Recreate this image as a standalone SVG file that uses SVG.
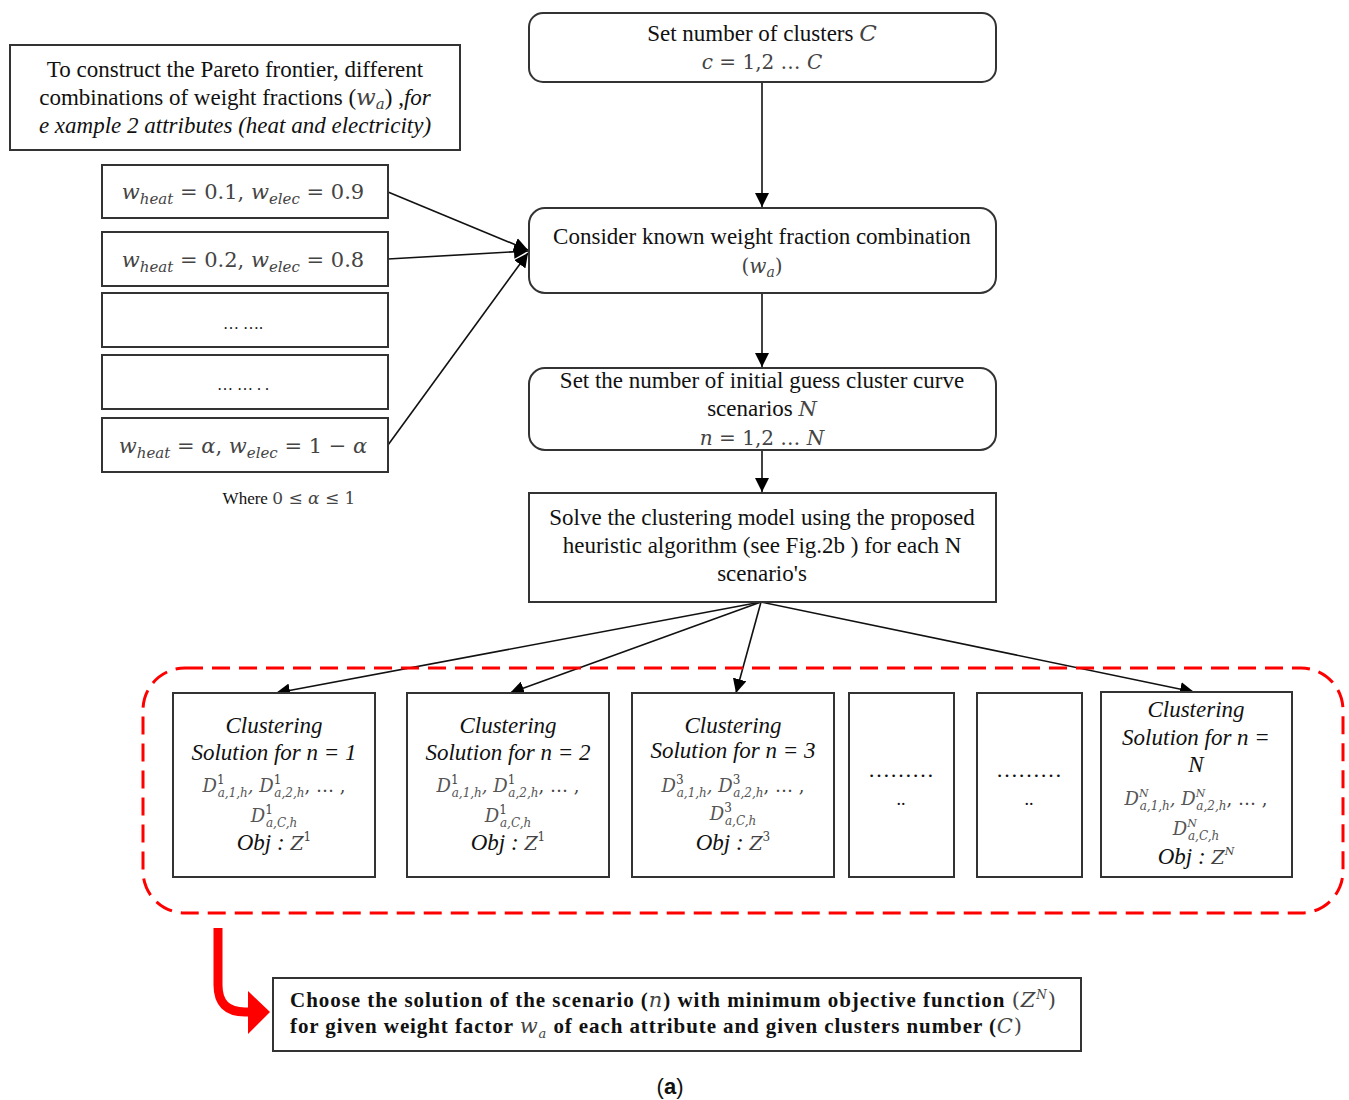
<svg xmlns="http://www.w3.org/2000/svg" width="1349" height="1100" viewBox="0 0 1349 1100">
<style>
.t{font-family:"Liberation Serif","Times New Roman",serif;font-size:23px;fill:#111;text-anchor:middle}
.it{font-style:italic}
.m{font-family:"DejaVu Serif","Liberation Serif",serif;font-style:italic;fill:#444}
.mu{font-family:"DejaVu Serif","Liberation Serif",serif;font-style:normal;fill:#444}
.d{font-family:"DejaVu Serif","Liberation Serif",serif;font-style:italic;fill:#555;font-size:18px;text-anchor:middle}
.box{fill:#fff;stroke:#333;stroke-width:2}
.line{fill:none;stroke:#111;stroke-width:1.6}
.b{font-weight:bold;text-anchor:start;font-size:21px}
.cap{font-family:"Liberation Sans",Arial,sans-serif;font-size:22px;fill:#111;text-anchor:middle}
</style>
<defs>
<marker id="ah2" viewBox="0 0 10 10" refX="10" refY="5" markerWidth="14" markerHeight="14" markerUnits="userSpaceOnUse" orient="auto">
<path d="M0,0 L10,5 L0,10 z" fill="#000"/>
</marker>
</defs>
<rect width="1349" height="1100" fill="#fff"/>

<g id="connectors">
<line class="line" x1="762" y1="82" x2="762" y2="207" marker-end="url(#ah2)"/>
<line class="line" x1="762" y1="293" x2="762" y2="367" marker-end="url(#ah2)"/>
<line class="line" x1="762" y1="450" x2="762" y2="492" marker-end="url(#ah2)"/>
<line class="line" x1="388" y1="192" x2="528" y2="250" marker-end="url(#ah2)"/>
<line class="line" x1="388" y1="259" x2="528" y2="251" marker-end="url(#ah2)"/>
<line class="line" x1="388" y1="445" x2="528" y2="253" marker-end="url(#ah2)"/>
<line class="line" x1="761" y1="602" x2="276" y2="693" marker-end="url(#ah2)"/>
<line class="line" x1="761" y1="602" x2="510" y2="693" marker-end="url(#ah2)"/>
<line class="line" x1="761" y1="602" x2="736" y2="693" marker-end="url(#ah2)"/>
<line class="line" x1="761" y1="602" x2="1194" y2="692" marker-end="url(#ah2)"/>
<path d="M218,928 L218,985 Q218,1012 245,1012 L252,1012" fill="none" stroke="#f00" stroke-width="9"/>
<path d="M248,991 L270,1012 L248,1034 z" fill="#f00"/>
</g>

<g id="pareto-note">
<rect class="box" x="10" y="45" width="450" height="105"/>
<text class="t" x="235" y="77">To construct the Pareto frontier, different</text>
<text class="t" x="235" y="105">combinations of weight fractions (<tspan class="m">w</tspan><tspan class="m" font-size="15" dy="4">a</tspan><tspan dy="-4">) ,</tspan><tspan class="it">for</tspan></text>
<text class="t it" x="235" y="133">e xample 2 attributes (heat and electricity)</text>
</g>

<g id="w1">
<rect class="box" x="102" y="165" width="286" height="53"/>
<text class="t" x="243" y="199" style="font-size:21px"><tspan class="m">w</tspan><tspan class="m" font-size="15" dy="5">heat</tspan><tspan class="mu" dy="-5"> =  0.1, </tspan><tspan class="m">w</tspan><tspan class="m" font-size="15" dy="5">elec</tspan><tspan class="mu" dy="-5"> =  0.9</tspan></text>
</g>
<g id="w2">
<rect class="box" x="102" y="232" width="286" height="54"/>
<text class="t" x="243" y="267" style="font-size:21px"><tspan class="m">w</tspan><tspan class="m" font-size="15" dy="5">heat</tspan><tspan class="mu" dy="-5"> = 0.2, </tspan><tspan class="m">w</tspan><tspan class="m" font-size="15" dy="5">elec</tspan><tspan class="mu" dy="-5"> = 0.8</tspan></text>
</g>
<g id="w3">
<rect class="box" x="102" y="293" width="286" height="54"/>
<text class="t" x="243" y="329" style="font-size:16px">… ….</text>
</g>
<g id="w4">
<rect class="box" x="102" y="355" width="286" height="54"/>
<text class="t" x="243" y="390" style="font-size:16px">… … . .</text>
</g>
<g id="w5">
<rect class="box" x="102" y="418" width="286" height="54"/>
<text class="t" x="243" y="453" style="font-size:21px"><tspan class="m">w</tspan><tspan class="m" font-size="15" dy="5">heat</tspan><tspan class="mu" dy="-5"> = </tspan><tspan class="m">α</tspan><tspan class="mu">, </tspan><tspan class="m">w</tspan><tspan class="m" font-size="15" dy="5">elec</tspan><tspan class="mu" dy="-5"> = 1 − </tspan><tspan class="m">α</tspan></text>
</g>
<g id="where-note">
<text class="t" x="289" y="504" style="font-size:17px">Where <tspan class="mu" fill="#666">0 ≤ </tspan><tspan class="m" fill="#666">α</tspan><tspan class="mu" fill="#666"> ≤ 1</tspan></text>
</g>

<g id="set-clusters">
<rect class="box" x="529" y="13" width="467" height="69" rx="14"/>
<text class="t" x="762" y="41">Set number of clusters  <tspan class="m">C</tspan></text>
<text class="t" x="762" y="69" style="font-size:20px"><tspan class="m">c</tspan><tspan class="mu"> = 1,2 … </tspan><tspan class="m">C</tspan></text>
</g>

<g id="consider">
<rect class="box" x="529" y="208" width="467" height="85" rx="16"/>
<text class="t" x="762" y="244">Consider known weight fraction combination</text>
<text class="t" x="762" y="273" style="font-size:20px"><tspan class="mu">(</tspan><tspan class="m">w</tspan><tspan class="m" font-size="14" dy="4">a</tspan><tspan class="mu" dy="-4">)</tspan></text>
</g>

<g id="set-scenarios">
<rect class="box" x="529" y="368" width="467" height="82" rx="16"/>
<text class="t" x="762" y="388">Set the number of initial guess cluster curve</text>
<text class="t" x="762" y="416">scenarios <tspan class="m" font-size="21">N</tspan></text>
<text class="t" x="762" y="445" style="font-size:20px"><tspan class="m">n</tspan><tspan class="mu"> = 1,2 … </tspan><tspan class="m">N</tspan></text>
</g>

<g id="solve">
<rect class="box" x="529" y="493" width="467" height="109"/>
<text class="t" x="762" y="525">Solve the clustering model using the proposed</text>
<text class="t" x="762" y="553">heuristic algorithm (see Fig.2b ) for each N</text>
<text class="t" x="762" y="581">scenario's</text>
</g>

<g id="scenario-group">
<rect x="143" y="668" width="1200" height="245" rx="42" fill="none" stroke="#f00" stroke-width="3" stroke-dasharray="18 9"/>
</g>

<g id="sol1">
<rect class="box" x="173" y="693" width="202" height="184"/>
<g transform="translate(274,0)">
<text class="t it" x="0" y="733">Clustering</text>
<text class="t it" x="0" y="760">Solution for n = 1</text>
<text class="d" x="0" y="792">D<tspan class="mu" font-size="12" dy="-8">1</tspan><tspan font-size="12" dx="-7" dy="13">a,1,h</tspan><tspan dy="-5">, </tspan>D<tspan class="mu" font-size="12" dy="-8">1</tspan><tspan font-size="12" dx="-7" dy="13">a,2,h</tspan><tspan class="mu" dy="-5">, … ,</tspan></text>
<text class="d" x="0" y="822">D<tspan class="mu" font-size="12" dy="-8">1</tspan><tspan font-size="12" dx="-7" dy="13">a,C,h</tspan></text>
<text class="t it" x="0" y="850">Obj : <tspan class="m" font-size="19">Z</tspan><tspan class="mu" font-size="12" dy="-9">1</tspan></text>
</g>
</g>

<g id="sol2">
<rect class="box" x="407" y="693" width="202" height="184"/>
<g transform="translate(508,0)">
<text class="t it" x="0" y="733">Clustering</text>
<text class="t it" x="0" y="760">Solution for n = 2</text>
<text class="d" x="0" y="792">D<tspan class="mu" font-size="12" dy="-8">1</tspan><tspan font-size="12" dx="-7" dy="13">a,1,h</tspan><tspan dy="-5">, </tspan>D<tspan class="mu" font-size="12" dy="-8">1</tspan><tspan font-size="12" dx="-7" dy="13">a,2,h</tspan><tspan class="mu" dy="-5">, … ,</tspan></text>
<text class="d" x="0" y="822">D<tspan class="mu" font-size="12" dy="-8">1</tspan><tspan font-size="12" dx="-7" dy="13">a,C,h</tspan></text>
<text class="t it" x="0" y="850">Obj : <tspan class="m" font-size="19">Z</tspan><tspan class="mu" font-size="12" dy="-9">1</tspan></text>
</g>
</g>

<g id="sol3">
<rect class="box" x="632" y="693" width="202" height="184"/>
<g transform="translate(733,0)">
<text class="t it" x="0" y="733">Clustering</text>
<text class="t it" x="0" y="758">Solution for n = 3</text>
<text class="d" x="0" y="792">D<tspan class="mu" font-size="12" dy="-8">3</tspan><tspan font-size="12" dx="-7" dy="13">a,1,h</tspan><tspan dy="-5">, </tspan>D<tspan class="mu" font-size="12" dy="-8">3</tspan><tspan font-size="12" dx="-7" dy="13">a,2,h</tspan><tspan class="mu" dy="-5">, … ,</tspan></text>
<text class="d" x="0" y="820">D<tspan class="mu" font-size="12" dy="-8">3</tspan><tspan font-size="12" dx="-7" dy="13">a,C,h</tspan></text>
<text class="t it" x="0" y="850">Obj : <tspan class="m" font-size="19">Z</tspan><tspan class="mu" font-size="12" dy="-9">3</tspan></text>
</g>
</g>

<g id="dots1">
<rect class="box" x="849" y="693" width="105" height="184"/>
<text class="t" x="901" y="777" style="font-size:22px">………</text>
<text class="t" x="901" y="805" style="font-size:18px">..</text>
</g>
<g id="dots2">
<rect class="box" x="977" y="693" width="105" height="184"/>
<text class="t" x="1029" y="777" style="font-size:22px">………</text>
<text class="t" x="1029" y="805" style="font-size:18px">..</text>
</g>

<g id="solN">
<rect class="box" x="1101" y="692" width="191" height="185"/>
<g transform="translate(1196,0)">
<text class="t it" x="0" y="717">Clustering</text>
<text class="t it" x="0" y="745">Solution for n =</text>
<text class="t it" x="0" y="772">N</text>
<text class="d" x="0" y="805">D<tspan font-size="11" dy="-8">N</tspan><tspan font-size="12" dx="-9" dy="13">a,1,h</tspan><tspan dy="-5">, </tspan>D<tspan font-size="11" dy="-8">N</tspan><tspan font-size="12" dx="-9" dy="13">a,2,h</tspan><tspan class="mu" dy="-5">, … ,</tspan></text>
<text class="d" x="0" y="835">D<tspan font-size="11" dy="-8">N</tspan><tspan font-size="12" dx="-9" dy="13">a,C,h</tspan></text>
<text class="t it" x="0" y="864">Obj : <tspan class="m" font-size="19">Z</tspan><tspan class="m" font-size="11" dy="-9">N</tspan></text>
</g>
</g>

<g id="choose">
<rect class="box" x="273" y="978" width="808" height="73"/>
<text class="t b" x="290" y="1007" textLength="766" lengthAdjust="spacing">Choose the solution of the scenario (<tspan class="m" font-weight="normal">n</tspan>) with minimum objective function <tspan class="mu" font-weight="normal">(</tspan><tspan class="m" font-weight="normal">Z</tspan><tspan class="m" font-weight="normal" font-size="12" dy="-8">N</tspan><tspan class="mu" font-weight="normal" dy="8">)</tspan></text>
<text class="t b" x="290" y="1033" textLength="732" lengthAdjust="spacing">for given weight factor <tspan class="m" font-weight="normal">w</tspan><tspan class="m" font-weight="normal" font-size="13" dy="5">a</tspan><tspan dy="-5"> of each attribute and given clusters number (</tspan><tspan class="m" font-weight="normal">C</tspan><tspan class="mu" font-weight="normal">)</tspan></text>
</g>

<g id="caption">
<text class="cap" x="670" y="1094">(<tspan font-weight="bold">a</tspan>)</text>
</g>
</svg>
